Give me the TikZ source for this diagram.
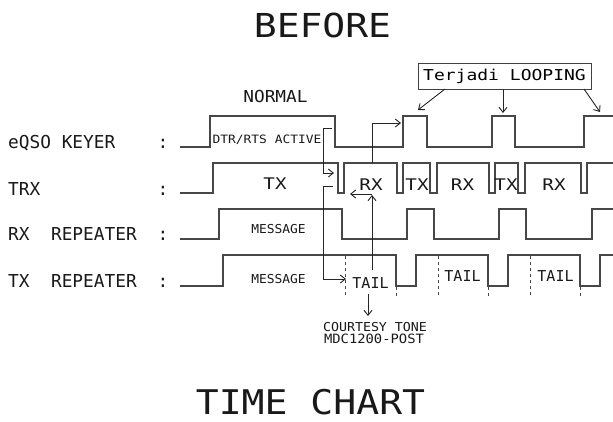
\documentclass[tikz,border=0pt]{standalone}
\usepackage{fontspec}
\setmainfont{DejaVu Sans Mono}
\usetikzlibrary{arrows.meta}
\newcommand{\wt}[2]{\scalebox{#1}[1]{#2}}
\begin{document}
\begin{tikzpicture}[x=1pt,y=-1pt,
  sig/.style={draw=black!72, line width=1.2pt, line join=miter},
  dsh/.style={draw=black!72, line width=1pt, dash pattern=on 3pt off 3pt},
  arr/.style={draw=black!85, line width=0.9pt, -{Straight Barb[length=5pt,width=8pt]}},
  txt/.style={inner sep=0pt, anchor=base, text=black!90},
  lbl/.style={inner sep=0pt, anchor=base west, text=black!90, font=\fontsize{17.8}{18}\selectfont},
]
\useasboundingbox[fill=white] (0,0) rectangle (613,421);

% titles
\node[txt, font=\fontsize{33}{34}\selectfont] (before) at (322.5,37) {\wt{1.15}{BEFORE}};
\node[txt, font=\fontsize{34}{35}\selectfont] (timechart) at (310.5,414.5) {\wt{1.12}{TIME CHART}};
\node[txt, font=\fontsize{16.5}{17}\selectfont] (normal) at (275.5,102) {\wt{1.08}{NORMAL}};

% row labels
\node[lbl] (l1) at (8,148) {eQSO KEYER};
\node[lbl] (l2) at (8,195) {TRX};
\node[lbl] (l3) at (8,240) {RX\ \ REPEATER};
\node[lbl] (l4) at (8,287) {TX\ \ REPEATER};
\foreach \y/\n in {148/c1,195/c2,240/c3,287/c4}
  \node[txt, font=\fontsize{17.8}{18}\selectfont] (\n) at (163,\y) {:};

% signals
\draw[sig] (180,147)--(210,147)--(210,116)--(335,116)--(335,147)--(403,147)--(403,116)--(427,116)--(427,147)
  --(492,147)--(492,116)--(515,116)--(515,147)--(584,147)--(584,116)--(613,116);
\draw[sig] (180,193)--(213,193)--(213,163)--(338,163)--(338,193)--(344,193)--(344,163)--(397,163)--(397,193)
  --(403,193)--(403,163)--(430,163)--(430,193)--(437,193)--(437,163)--(489,163)--(489,193)--(495,193)
  --(495,163)--(518,163)--(518,193)--(525,193)--(525,163)--(581,163)--(581,193)--(587,193)--(587,163)--(613,163);
\draw[sig] (180,239)--(219,239)--(219,209)--(342,209)--(342,239)--(407,239)--(407,209)--(434,209)--(434,239)
  --(499,239)--(499,209)--(526,209)--(526,239)--(592,239)--(592,209)--(613,209);
\draw[sig] (180,286)--(223,286)--(223,255)--(396,255)--(396,286)--(416,286)--(416,255)--(488,255)--(488,286)
  --(508,286)--(508,255)--(580,255)--(580,286)--(600,286)--(600,255)--(613,255);

% dashed markers
\foreach \x in {345,438,530} \draw[dsh] (\x,256)--(\x,298);
\foreach \x in {396,488,580} \draw[dsh] (\x,287)--(\x,298);

% texts inside signals
\node[txt, font=\fontsize{11.5}{12}\selectfont] (dtr) at (267,143) {\wt{1.12}{DTR/RTS ACTIVE}};
\node[txt, font=\fontsize{16}{16}\selectfont] (tx1) at (275,189) {\wt{1.2}{TX}};
\node[txt, font=\fontsize{16}{16}\selectfont] (rx1) at (371,190) {\wt{1.2}{RX}};
\node[txt, font=\fontsize{16}{16}\selectfont] (tx2) at (417,190) {\wt{1.2}{TX}};
\node[txt, font=\fontsize{16}{16}\selectfont] (rx2) at (462.5,190) {\wt{1.2}{RX}};
\node[txt, font=\fontsize{16}{16}\selectfont] (tx3) at (506,190) {\wt{1.2}{TX}};
\node[txt, font=\fontsize{16}{16}\selectfont] (rx3) at (554,190) {\wt{1.2}{RX}};
\node[txt, font=\fontsize{12.3}{13}\selectfont] (msg1) at (278.5,233) {\wt{1.05}{MESSAGE}};
\node[txt, font=\fontsize{12.3}{13}\selectfont] (msg2) at (278.5,283) {\wt{1.05}{MESSAGE}};
\node[txt, font=\fontsize{15}{15}\selectfont] (tail1) at (370.5,288) {TAIL};
\node[txt, font=\fontsize{15}{15}\selectfont] (tail2) at (462.5,281) {TAIL};
\node[txt, font=\fontsize{15}{15}\selectfont] (tail3) at (555.5,281) {TAIL};
\node[txt, font=\fontsize{12.3}{13}\selectfont] (court) at (375,331) {\wt{1.08}{COURTESY TONE}};
\node[txt, font=\fontsize{12.8}{13}\selectfont] (mdc) at (374,343) {\wt{1.08}{MDC1200-POST}};

% looping box
\node[draw=black!75, line width=1pt, minimum width=173pt, minimum height=26pt, inner sep=0pt,
  font=\fontsize{15}{15}\selectfont] (loop) at (504.5,76) {\wt{1.2}{Terjadi LOOPING}};
\coordinate (la) at (445,89); \coordinate (lat) at (418,110);
\coordinate (lb) at (503,89); \coordinate (lbt) at (503,113);
\coordinate (lc) at (584,89); \coordinate (lct) at (600,112);
\draw[arr] (la)--(lat);
\draw[arr] (lb)--(lbt);
\draw[arr] (lc)--(lct);

% connectors
\coordinate (a1s) at (332,128); \coordinate (a1e) at (334,173);
\draw[arr] (a1s)--(323,128)--(323,173)--(a1e);
\coordinate (a2s) at (333,186); \coordinate (a2e) at (346,279);
\draw[arr] (a2s)--(323,186)--(323,279)--(a2e);
\coordinate (a3s) at (372,163); \coordinate (a3e) at (401,123);
\draw[arr] (a3s)--(372,123)--(a3e);
\coordinate (a4s) at (372,270); \coordinate (a4e) at (372,195); \coordinate (a4l) at (350,194);
\draw[arr] (a4s)--(a4e);
\draw[arr] (372,194)--(a4l);
\coordinate (a5s) at (368,294); \coordinate (a5e) at (368,316);
\draw[arr] (a5s)--(a5e);
\end{tikzpicture}
\end{document}
